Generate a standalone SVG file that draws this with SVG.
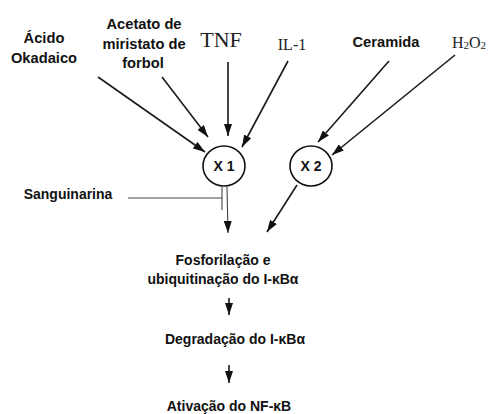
<svg xmlns="http://www.w3.org/2000/svg" width="490" height="414" viewBox="0 0 490 414">
<style>
.sans{font-family:"Liberation Sans",Arial,sans-serif;font-weight:bold;font-size:14px;fill:#111}
.top{font-size:14.7px}
.serif{font-family:"Liberation Serif","Times New Roman",serif;fill:#222}
.ln{stroke:#1a1a1a;stroke-width:1.6;fill:none}
.thin{stroke:#444;stroke-width:1.1;fill:none}
.node{fill:#fff;stroke:#111;stroke-width:1.6}
</style>
<defs>
<marker id="ah" viewBox="0 0 12 8" refX="12" refY="4" markerWidth="12" markerHeight="8" markerUnits="userSpaceOnUse" orient="auto">
<path d="M0,0 L12,4 L0,8 z" fill="#111"/>
</marker>
</defs>
<rect width="490" height="414" fill="#fff"/>
<g id="labels">
<text class="sans top" x="44" y="43" text-anchor="middle">Ácido</text>
<text class="sans top" x="44" y="63" text-anchor="middle">Okadaico</text>
<text class="sans top" x="144" y="29" text-anchor="middle">Acetato de</text>
<text class="sans top" x="144" y="49" text-anchor="middle">miristato de</text>
<text class="sans top" x="143" y="68" text-anchor="middle">forbol</text>
<text class="serif" x="221" y="47" text-anchor="middle" font-size="22">TNF</text>
<text class="serif" x="292" y="50" text-anchor="middle" font-size="16">IL-1</text>
<text class="sans top" x="386" y="47" text-anchor="middle">Ceramida</text>
<text class="serif" x="469" y="48" text-anchor="middle" font-size="16">H<tspan font-size="11" dy="1">2</tspan><tspan dy="-1">O</tspan><tspan font-size="11" dy="1">2</tspan></text>
<text class="sans" x="68" y="199" text-anchor="middle">Sanguinarina</text>
</g>
<g id="connectors">
<line class="ln" x1="98" y1="77" x2="205" y2="152" marker-end="url(#ah)"/>
<line class="ln" x1="162" y1="77" x2="208" y2="137" marker-end="url(#ah)"/>
<line class="ln" x1="228" y1="62" x2="228" y2="136" marker-end="url(#ah)"/>
<line class="ln" x1="288" y1="61" x2="242" y2="147" marker-end="url(#ah)"/>
<line class="ln" x1="389" y1="61" x2="318" y2="142" marker-end="url(#ah)"/>
<line class="ln" x1="455" y1="55" x2="332" y2="155" marker-end="url(#ah)"/>
<line class="thin" x1="128" y1="198" x2="222" y2="198"/>
<line class="thin" x1="222" y1="187" x2="222" y2="210"/>
<line class="thin" x1="227" y1="187" x2="228" y2="233" marker-end="url(#ah)"/>
<line class="ln" x1="297" y1="185" x2="267" y2="232" marker-end="url(#ah)"/>
<line class="ln" x1="229" y1="298" x2="229" y2="315" marker-end="url(#ah)"/>
<line class="ln" x1="229" y1="365" x2="229" y2="383" marker-end="url(#ah)"/>
</g>
<g id="x1">
<ellipse class="node" cx="224" cy="166" rx="21" ry="20"/>
<text class="sans" x="224" y="171" text-anchor="middle">X 1</text>
</g>
<g id="x2">
<ellipse class="node" cx="311" cy="166" rx="21" ry="20"/>
<text class="sans" x="311" y="171" text-anchor="middle">X 2</text>
</g>
<g id="fosforilacao">
<text class="sans" x="223" y="265" text-anchor="middle">Fosforilação e</text>
<text class="sans" x="223" y="284" text-anchor="middle">ubiquitinação do I-κBα</text>
</g>
<g id="degradacao">
<text class="sans" x="235" y="344" text-anchor="middle">Degradação do I-κBα</text>
</g>
<g id="ativacao">
<text class="sans" x="229" y="411" text-anchor="middle">Ativação do NF-κB</text>
</g>
</svg>
